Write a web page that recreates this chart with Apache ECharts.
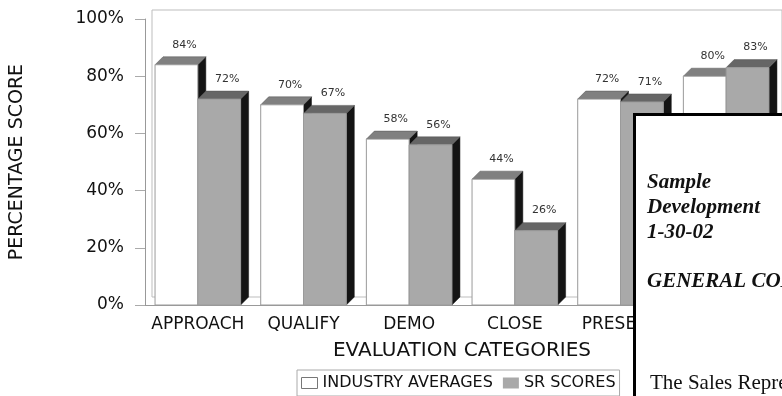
<!DOCTYPE html>
<html>
<head>
<meta charset="utf-8">
<script src="https://cdn.jsdelivr.net/npm/echarts@6/dist/echarts.min.js"></script>
<style>
html,body{margin:0;padding:0;background:#fff;}
#chart{width:782px;height:396px;}
</style>
</head>
<body>
<div id="chart"></div>
<script>
var categories = ['APPROACH', 'QUALIFY', 'DEMO', 'CLOSE', 'PRESENT', 'OVERALL'];
var industryAvg = [84, 70, 58, 44, 72, 80];
var srScores = [72, 67, 56, 26, 71, 83];
var seriesNames = ['INDUSTRY AVERAGES', 'SR SCORES'];

var myChart = echarts.init(document.getElementById('chart'));
var depth = 8;
var fontAxis = 'DejaVu Sans';

// 3d looking bar: front, top, side
function renderBar(params, api) {
    var ci = api.value(0), v = api.value(1);
    var base = api.coord([ci, 0]);
    var top = api.coord([ci, v]);
    var band = api.size([1, 0])[0];
    var w = band * 0.405;
    var x0 = params.seriesIndex === 0 ? base[0] - w : base[0];
    var ty = top[1], by = base[1];
    var front = params.seriesIndex === 0 ? '#ffffff' : '#a9a9a9';
    var topCol = params.seriesIndex === 0 ? '#808080' : '#666666';
    return {
        type: 'group',
        children: [
            {
                type: 'polygon',
                shape: {points: [[x0 + w, ty], [x0 + w + depth, ty - depth], [x0 + w + depth, by - depth], [x0 + w, by]]},
                style: {fill: '#141414', stroke: '#141414', lineWidth: 0.5}
            },
            {
                type: 'polygon',
                shape: {points: [[x0, ty], [x0 + depth, ty - depth], [x0 + w + depth, ty - depth], [x0 + w, ty]]},
                style: {fill: topCol, stroke: '#555', lineWidth: 0.5}
            },
            {
                type: 'rect',
                shape: {x: x0, y: ty, width: w, height: by - ty},
                style: {fill: front, stroke: '#9a9a9a', lineWidth: 1}
            },
            {
                type: 'text',
                style: {
                    x: x0 + w / 2 + depth, y: ty - depth - 12,
                    text: v + '%', align: 'center', verticalAlign: 'middle',
                    font: '11px "DejaVu Sans"', fill: '#333'
                }
            }
        ]
    };
}

function toData(arr) {
    var res = [];
    for (var i = 0; i < arr.length; i++) res.push([i, arr[i]]);
    return res;
}

var option = {
    backgroundColor: '#fff',
    animation: false,
    grid: [
        {left: 143, right: 3, top: 19, bottom: 91},
        {left: 152, right: -10, top: 10, bottom: 99, show: true, borderColor: '#bdbdbd', borderWidth: 1, backgroundColor: '#fff', z: 0}
    ],
    legend: {
        left: 297, top: 370,
        padding: [5, 4],
        itemWidth: 16, itemHeight: 11, itemGap: 10,
        borderColor: '#aaa', borderWidth: 1,
        textStyle: {fontFamily: fontAxis, fontSize: 16, color: '#111'},
        data: [
            {name: seriesNames[0], icon: 'rect', itemStyle: {color: '#fff', borderColor: '#777', borderWidth: 1}},
            {name: seriesNames[1], icon: 'rect', itemStyle: {color: '#a9a9a9', borderWidth: 0}}
        ]
    },
    xAxis: [
        {
            type: 'category', data: categories, gridIndex: 0,
            name: 'EVALUATION CATEGORIES', nameLocation: 'middle', nameGap: 36,
            nameTextStyle: {fontFamily: fontAxis, fontSize: 20, color: '#111'},
            axisLine: {lineStyle: {color: '#999'}},
            axisTick: {show: false},
            axisLabel: {interval: 0, margin: 11, fontFamily: fontAxis, fontSize: 17, color: '#111'}
        },
        {type: 'value', gridIndex: 1, show: false, min: 0, max: 1}
    ],
    yAxis: [
        {
            type: 'value', gridIndex: 0, min: 0, max: 100, interval: 20,
            name: 'PERCENTAGE SCORE', nameLocation: 'middle', nameRotate: 90, nameGap: 118,
            nameTextStyle: {fontFamily: fontAxis, fontSize: 19, color: '#111'},
            axisLine: {show: true, lineStyle: {color: '#999'}},
            axisTick: {show: true, length: 10, lineStyle: {color: '#aaa'}},
            splitLine: {show: false},
            axisLabel: {formatter: '{value}%', margin: 21, fontFamily: fontAxis, fontSize: 17, color: '#111'}
        },
        {type: 'value', gridIndex: 1, show: false, min: 0, max: 1}
    ],
    series: [
        {
            name: seriesNames[0], type: 'custom', renderItem: renderBar,
            xAxisIndex: 0, yAxisIndex: 0, z: 3,
            itemStyle: {color: '#fff', borderColor: '#777'},
            encode: {x: 0, y: 1},
            data: toData(industryAvg)
        },
        {
            name: seriesNames[1], type: 'custom', renderItem: renderBar,
            xAxisIndex: 0, yAxisIndex: 0, z: 3,
            itemStyle: {color: '#a9a9a9'},
            encode: {x: 0, y: 1},
            data: toData(srScores)
        }
    ],
    graphic: [
        {
            type: 'rect', left: 633, top: 113, z: 100,
            shape: {width: 220, height: 320},
            style: {fill: '#fff', stroke: '#000', lineWidth: 3}
        },
        {
            type: 'text', left: 647, top: 170, z: 101,
            style: {
                text: 'Sample\nDevelopment\n1-30-02', lineHeight: 25,
                font: 'italic bold 21px "Liberation Serif"', fill: '#111'
            }
        },
        {
            type: 'text', left: 647, top: 271, z: 101,
            style: {text: 'GENERAL COMMENTS', font: 'italic bold 21px "Liberation Serif"', fill: '#111'}
        },
        {
            type: 'text', left: 650, top: 373, z: 101,
            style: {text: 'The Sales Representative', font: '21px "Liberation Serif"', fill: '#111'}
        }
    ]
};

myChart.setOption(option);
window.onresize = myChart.resize;
</script>
</body>
</html>
